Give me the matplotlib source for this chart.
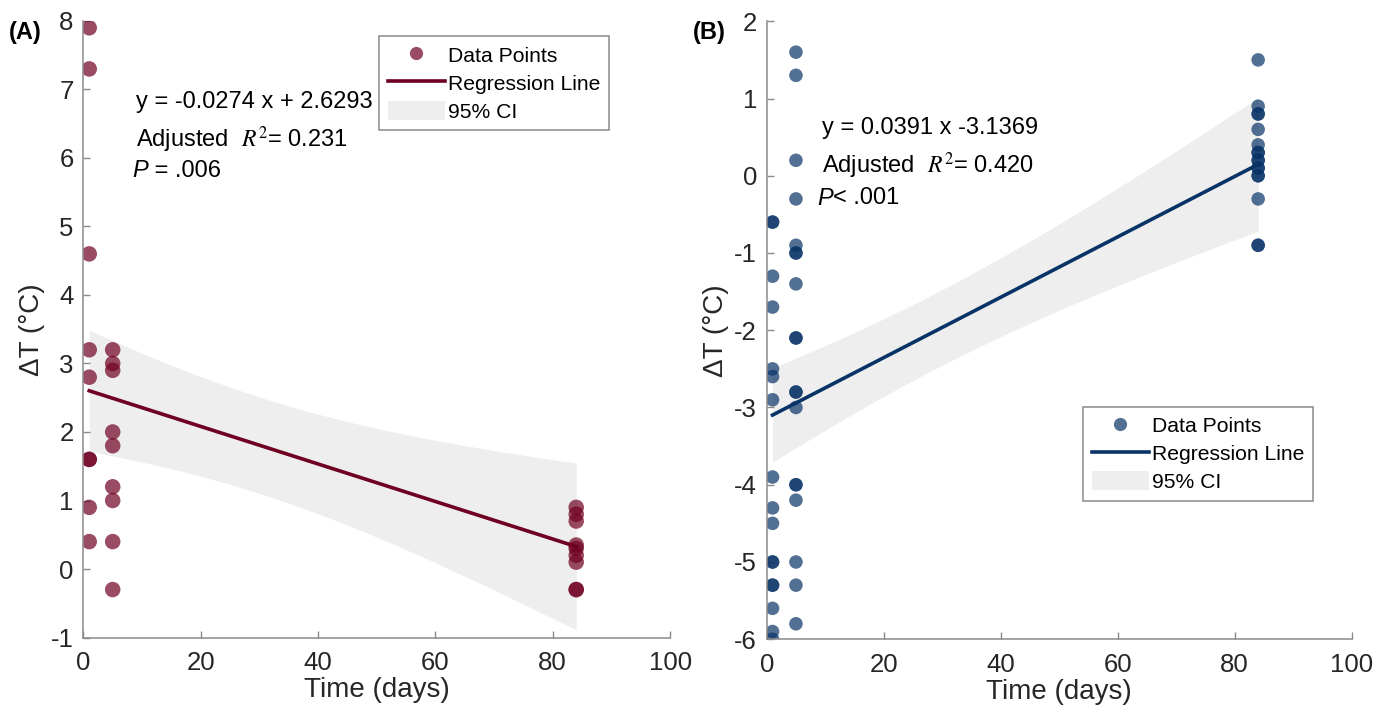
import numpy as np
import matplotlib
matplotlib.use('Agg')
import matplotlib.pyplot as plt
from matplotlib.lines import Line2D
from matplotlib.patches import Patch

plt.rcParams['font.family'] = ['Liberation Sans', 'DejaVu Sans']
plt.rcParams['mathtext.fontset'] = 'stix'

# Werte (Tag 1, 5, 84)
a_tag1 = [7.9, 7.3, 4.6, 3.2, 2.8, 1.6, 1.6, 0.9, 0.4]
a_tag5 = [3.2, 3.0, 2.9, 2.0, 1.8, 1.2, 1.0, 0.4, -0.3]
a_tag84 = [0.9, 0.8, 0.7, 0.35, 0.3, 0.2, 0.1, -0.3, -0.3]

b_tag1 = [-0.6, -0.6, -1.3, -1.7, -2.5, -2.6, -2.9, -3.9, -4.3, -4.5,
          -5.0, -5.0, -5.3, -5.3, -5.6, -5.9, -6.0]
b_tag5 = [1.6, 1.3, 0.2, -0.3, -0.9, -1.0, -1.0, -1.4, -2.1, -2.1,
          -2.8, -2.8, -3.0, -4.0, -4.0, -4.2, -5.0, -5.3, -5.8]
b_tag84 = [1.5, 0.9, 0.8, 0.8, 0.6, 0.4, 0.3, 0.3, 0.2, 0.2, 0.1, 0.1,
           0.0, 0.0, -0.3, -0.9, -0.9]

tage = [1, 5, 84]

# Regressionskoeffizienten laut Beschriftung
a_steigung, a_achse = -0.0274, 2.6293
b_steigung, b_achse = 0.0391, -3.1369
a_texte = ['y = -0.0274 x + 2.6293', 'Adjusted  $R^2$= 0.231', ' = .006']
b_texte = ['y = 0.0391 x -3.1369', 'Adjusted  $R^2$= 0.420', '< .001']

# t-Quantile (97.5 %) für n-2 Freiheitsgrade
t_krit = {26: 2.056, 27: 2.052, 51: 2.008}

grau_text = '#262626'
grau_achse = '#8a8a8a'
band_farbe = '#eeeeee'


def zusammen(werte):
    x = np.concatenate([np.full(len(w), t, dtype=float) for t, w in zip(tage, werte)])
    y = np.concatenate([np.asarray(w, dtype=float) for w in werte])
    return x, y


def zeichne(ax, werte, steigung, achse, farbe, punkt_s, texte,
            ylim, yticks, text_xy, leg_xy, buchstabe):
    x, y = zusammen(werte)
    n = len(x)
    rest = y - (steigung * x + achse)
    s = np.sqrt(np.sum(rest ** 2) / (n - 2))
    sxx = np.sum((x - x.mean()) ** 2)
    xs = np.linspace(min(tage), max(tage), 200)
    yfit = steigung * xs + achse
    halb = t_krit.get(n - 2, 2.0) * s * np.sqrt(1 / n + (xs - x.mean()) ** 2 / sxx)

    ax.fill_between(xs, yfit - halb, yfit + halb, color=band_farbe, lw=0, zorder=1)
    ax.scatter(x, y, s=punkt_s, color=farbe, alpha=0.7, edgecolors='none', zorder=2)
    ax.plot(xs, yfit, color=farbe, lw=2.6, zorder=3)

    ax.set_xlim(0, 100)
    ax.set_ylim(*ylim)
    ax.set_xticks([0, 20, 40, 60, 80, 100])
    ax.set_yticks(yticks)
    ax.set_yticklabels([str(v) for v in yticks])
    for sp in ['top', 'right']:
        ax.spines[sp].set_visible(False)
    for sp in ['left', 'bottom']:
        ax.spines[sp].set_color(grau_achse)
        ax.spines[sp].set_linewidth(1.1)
    ax.tick_params(direction='in', length=5, width=1, color=grau_achse,
                   labelcolor=grau_text, labelsize=18.5)
    ax.tick_params(axis='x', pad=10)
    ax.tick_params(axis='y', pad=7)
    ax.set_xlabel('Time (days)', fontsize=20, color=grau_text, labelpad=1)
    ax.set_ylabel('ΔT (°C)', fontsize=20, color=grau_text, labelpad=4)

    tx, ty = text_xy
    ax.text(tx, ty[0], texte[0], fontsize=17, color='black', va='center')
    ax.text(tx, ty[1], texte[1], fontsize=17, color='black', va='center')
    p = ax.text(tx - 0.7, ty[2], 'P', fontsize=17, style='italic', color='black',
                va='center')
    ax.annotate(texte[2], xy=(1, 0.5), xycoords=p,
                fontsize=17, color='black', va='center')

    griffe = [Line2D([], [], marker='o', ls='', markersize=9.5, color=farbe,
                     alpha=0.7, markeredgecolor='none'),
              Line2D([], [], color=farbe, lw=2.6),
              Patch(facecolor=band_farbe, edgecolor='none')]
    leg = ax.legend(griffe, ['Data Points', 'Regression Line', '95% CI'],
                    loc='upper left', bbox_to_anchor=leg_xy, borderaxespad=0,
                    fontsize=15.2, fancybox=False, framealpha=1,
                    handlelength=2.7, handletextpad=0.15, borderpad=0.4,
                    labelspacing=0.35, handleheight=1.0)
    leg.get_frame().set_edgecolor(grau_achse)
    leg.get_frame().set_linewidth(1.1)

    ax.text(-0.127, 1.0, buchstabe, transform=ax.transAxes, fontsize=17,
            fontweight='bold', va='top', ha='left', color='black')


fig = plt.figure(figsize=(13.94, 7.18), dpi=100)
ax_a = fig.add_axes([0.0598, 0.1121, 0.4209, 0.8587])
ax_b = fig.add_axes([0.5500, 0.1097, 0.4197, 0.8607])

zeichne(ax_a, [a_tag1, a_tag5, a_tag84], a_steigung, a_achse, '#700022', 125,
        a_texte, (-1, 8), list(range(-1, 9)),
        (9.0, [6.81, 6.27, 5.81]), (0.504, 0.975), '(A)')
zeichne(ax_b, [b_tag1, b_tag5, b_tag84], b_steigung, b_achse, '#083366', 95,
        b_texte, (-6, 2), list(range(-6, 3)),
        (9.4, [0.62, 0.13, -0.29]), (0.541, 0.376), '(B)')

fig.savefig('out.png', dpi=100)
